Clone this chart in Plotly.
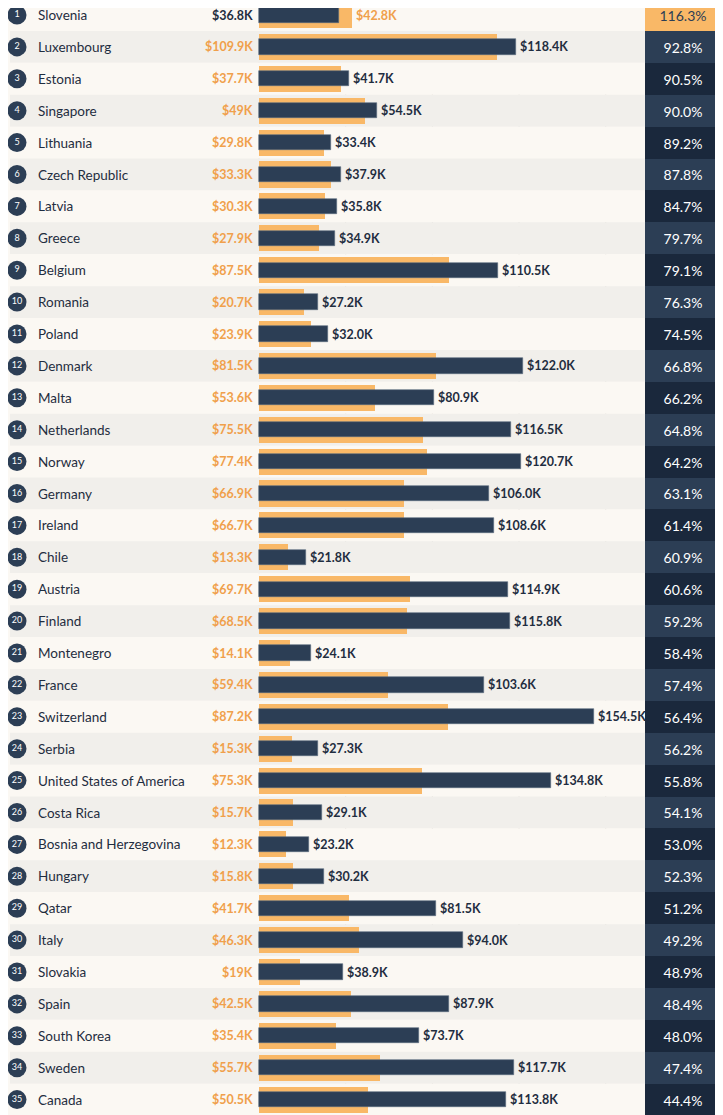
import plotly.graph_objects as go

countries = ["Slovenia","Luxembourg","Estonia","Singapore","Lithuania","Czech Republic","Latvia","Greece",
"Belgium","Romania","Poland","Denmark","Malta","Netherlands","Norway","Germany","Ireland","Chile","Austria",
"Finland","Montenegro","France","Switzerland","Serbia","United States of America","Costa Rica",
"Bosnia and Herzegovina","Hungary","Qatar","Italy","Slovakia","Spain","South Korea","Sweden","Canada"]
orange_vals = [42.8,109.9,37.7,49,29.8,33.3,30.3,27.9,87.5,20.7,23.9,81.5,53.6,75.5,77.4,66.9,66.7,13.3,69.7,
68.5,14.1,59.4,87.2,15.3,75.3,15.7,12.3,15.8,41.7,46.3,19,42.5,35.4,55.7,50.5]
dark_vals = [36.8,118.4,41.7,54.5,33.4,37.9,35.8,34.9,110.5,27.2,32.0,122.0,80.9,116.5,120.7,106.0,108.6,21.8,
114.9,115.8,24.1,103.6,154.5,27.3,134.8,29.1,23.2,30.2,81.5,94.0,38.9,87.9,73.7,117.7,113.8]
orange_labels = ["$42.8K","$109.9K","$37.7K","$49K","$29.8K","$33.3K","$30.3K","$27.9K","$87.5K","$20.7K",
"$23.9K","$81.5K","$53.6K","$75.5K","$77.4K","$66.9K","$66.7K","$13.3K","$69.7K","$68.5K","$14.1K","$59.4K",
"$87.2K","$15.3K","$75.3K","$15.7K","$12.3K","$15.8K","$41.7K","$46.3K","$19K","$42.5K","$35.4K","$55.7K","$50.5K"]
dark_labels = ["$%.1fK" % v for v in dark_vals]
pct_labels = ["116.3%","92.8%","90.5%","90.0%","89.2%","87.8%","84.7%","79.7%","79.1%","76.3%","74.5%",
"66.8%","66.2%","64.8%","64.2%","63.1%","61.4%","60.9%","60.6%","59.2%","58.4%","57.4%","56.4%","56.2%",
"55.8%","54.1%","53.0%","52.3%","51.2%","49.2%","48.9%","48.4%","48.0%","47.4%","44.4%"]
grid_ticks = [40, 80, 120, 160]

NAVY = "#2c3e55"; NAVY2 = "#1a283c"; ORANGE = "#f9b867"; ORANGE_TXT = "#f0a04b"
n = len(countries)
ys = list(range(n))
PX = 2.167  # px per K
OFF = 8     # page body margin
ROW = 31.9
def dx(px): return (px - 259) / PX

fig = go.Figure()
shapes = []
for i in ys:
    shapes.append(dict(type="rect", xref="x", yref="y", x0=dx(10), x1=dx(645), y0=i-0.5, y1=i+0.5,
                       fillcolor="#fbf8f3" if i % 2 == 0 else "#f1efeb", line_width=0, layer="below"))
for t in grid_ticks:
    shapes.append(dict(type="line", xref="x", yref="paper", x0=t, x1=t, y0=0, y1=1,
                       line=dict(color="#cfcac4", width=1, dash="dash"), layer="below"))
shapes.append(dict(type="line", xref="x", yref="paper", x0=0, x1=0, y0=0, y1=1,
                   line=dict(color="#d8d3cc", width=1), layer="below"))

fig.add_bar(y=ys, x=orange_vals, orientation="h", width=0.82, marker=dict(color=ORANGE, line_width=0),
            hoverinfo="skip")
fig.add_bar(y=ys, x=dark_vals, orientation="h", width=0.48,
            marker=dict(color=NAVY, line=dict(color="#5b6b80", width=0.6)), hoverinfo="skip")
pct_colors = [ORANGE if i == 0 else (NAVY if i % 2 == 1 else NAVY2) for i in ys]
pct_font = ["#2c3e55" if i == 0 else "white" for i in ys]
fig.add_bar(y=ys, x=[dx(721) - dx(645)] * n, base=[dx(645)] * n, orientation="h", width=1.0,
            marker=dict(color=pct_colors, line_width=0), text=pct_labels, textposition="inside",
            insidetextanchor="middle", textfont=dict(family="Lato", size=14, color=pct_font),
            hoverinfo="skip")
fig.add_scatter(x=[dx(17)] * n, y=ys, mode="markers+text", marker=dict(size=19, color=NAVY),
                text=[str(i + 1) for i in ys], textfont=dict(family="Lato", size=9, color="white"),
                hoverinfo="skip")

ann = []
for i in ys:
    ann.append(dict(x=dx(36), y=i, text=countries[i], showarrow=False, xanchor="left",
                    font=dict(family="Lato", size=13.5, color="#1f2d40")))
    o, d = orange_vals[i], dark_vals[i]
    if o < d:
        left, lc, right, rc, rx = orange_labels[i], ORANGE_TXT, dark_labels[i], "#1f2d40", d
    else:
        left, lc, right, rc, rx = dark_labels[i], "#1f2d40", orange_labels[i], ORANGE_TXT, o
    ann.append(dict(x=dx(255), y=i, text="<b>" + left + "</b>", showarrow=False, xanchor="right",
                    font=dict(family="Lato", size=12.5, color=lc)))
    ann.append(dict(x=rx, xshift=2, y=i, text="<b>" + right + "</b>", showarrow=False, xanchor="left",
                    font=dict(family="Lato", size=12.5, color=rc)))

fig.update_layout(width=723, height=1115, margin=dict(l=0, r=0, t=0, b=0), barmode="overlay",
                  paper_bgcolor="#fbf8f3", plot_bgcolor="#fbf8f3", showlegend=False,
                  shapes=shapes, annotations=ann, bargap=0,
                  xaxis=dict(range=[dx(OFF), dx(OFF + 723)], visible=False, fixedrange=True),
                  yaxis=dict(range=[(OFF + 1115 - 15) / ROW, (OFF - 15) / ROW], visible=False,
                             fixedrange=True))
fig.write_html("out.html")
